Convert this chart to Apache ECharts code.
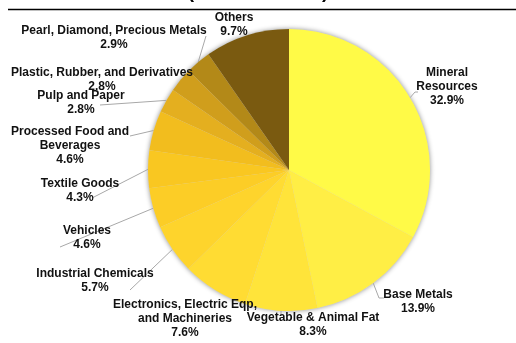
<!DOCTYPE html>
<html>
<head>
<meta charset="utf-8">
<script src="https://cdn.jsdelivr.net/npm/echarts@6/dist/echarts.min.js"></script>
<style>
  html, body { margin: 0; padding: 0; background: #fff; }
  #chart { width: 516px; height: 343px; }
</style>
</head>
<body>
<div id="chart"></div>
<script>
// Export composition by commodity group (percent share)
const categories = [
  'Mineral\nResources',
  'Base Metals',
  'Vegetable & Animal Fat',
  'Electronics, Electric Eqp,\nand Machineries',
  'Industrial Chemicals',
  'Vehicles',
  'Textile Goods',
  'Processed Food and\nBeverages',
  'Pulp and Paper',
  'Plastic, Rubber, and Derivatives',
  'Pearl, Diamond, Precious Metals',
  'Others'
];
const shares = [32.9, 13.9, 8.3, 7.6, 5.7, 4.6, 4.3, 4.6, 2.8, 2.8, 2.9, 9.7];
const colors = [
  '#FFFA47', '#FFEE45', '#FFE43A', '#FFDC33', '#FED42C', '#FCCD26',
  '#F9C721', '#F2BD1E', '#E4AF1F', '#D09E1C', '#B38918', '#7A5A10'
];
// label placement: centre of each text block, in px
const labelAnchors = [
  [447, 87], [418, 302], [313, 325], [185, 319], [95, 281], [87, 238],
  [80, 191], [70, 146], [81, 103], [102, 80], [114, 38], [234, 25]
];
// leader-line path after leaving the slice edge (null = no leader)
const leaderEnds = [
  [[415, 92], [418, 92]],
  [[379, 298], [384, 298]],
  [[281, 316]],
  null,
  [[130, 290]],
  [[60, 247]],
  [[92, 198]],
  [[130, 136]],
  [[100, 105]],
  [[192, 80]],
  [[206, 36]],
  null
];

const pieCenter = [289, 170];
const pieRadius = 141;

const chart = echarts.init(document.getElementById('chart'));
chart.setOption({
  animation: false,
  graphic: [
    {
      type: 'text',
      left: 'center',
      top: -17,
      style: {
        text: '(Percent Share)',
        font: 'bold 19px "Liberation Sans", Arial, sans-serif',
        fill: '#000'
      }
    },
    {
      type: 'line',
      shape: { x1: 8, y1: 9.5, x2: 516, y2: 9.5 },
      style: { stroke: '#000', lineWidth: 1.5 }
    }
  ],
  series: [
    {
      // soft drop shadow under the whole disc
      type: 'pie',
      center: pieCenter,
      radius: pieRadius,
      silent: true,
      z: 1,
      label: { show: false },
      labelLine: { show: false },
      data: [{ value: 1, itemStyle: { color: '#d8d8d8' } }],
      itemStyle: {
        shadowBlur: 5,
        shadowColor: 'rgba(0,0,0,0.45)'
      }
    },
    {
      type: 'pie',
      center: pieCenter,
      radius: pieRadius,
      z: 2,
      startAngle: 90,
      clockwise: true,
      avoidLabelOverlap: false,
      data: categories.map((name, i) => ({
        name: name,
        value: shares[i],
        itemStyle: { color: colors[i] },
        labelLine: { show: leaderEnds[i] !== null }
      })),
      itemStyle: { borderWidth: 0 },
      label: {
        show: true,
        formatter: p => p.name + '\n' + shares[p.dataIndex].toFixed(1) + '%',
        fontFamily: '"Liberation Sans", Arial, sans-serif',
        fontWeight: 'bold',
        fontSize: 12,
        lineHeight: 14,
        color: '#111',
        align: 'center'
      },
      labelLine: {
        show: true,
        length: 10,
        length2: 10,
        lineStyle: { color: '#a8a8a8', width: 1 }
      },
      labelLayout: function (params) {
        const i = params.dataIndex;
        const a = labelAnchors[i];
        const out = {
          x: a[0],
          y: a[1],
          align: 'center',
          verticalAlign: 'middle'
        };
        if (leaderEnds[i] && params.labelLinePoints) {
          out.labelLinePoints = [params.labelLinePoints[0]].concat(leaderEnds[i]);
        }
        return out;
      }
    }
  ]
});
</script>
</body>
</html>
